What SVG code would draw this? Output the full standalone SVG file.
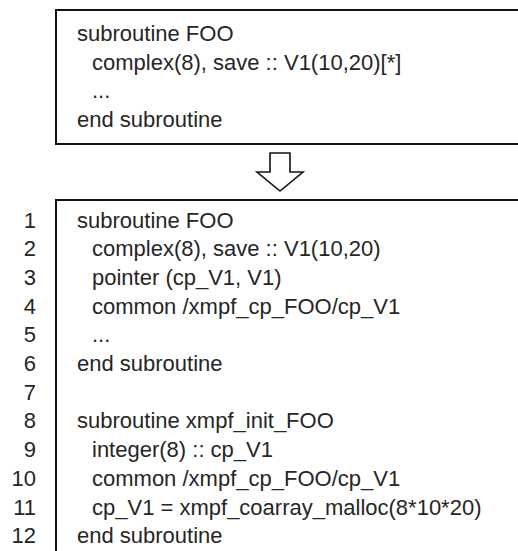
<svg xmlns="http://www.w3.org/2000/svg" width="518" height="551" viewBox="0 0 518 551">
<style>
.box{fill:#ffffff;stroke:#111111;stroke-width:2}
.t{font-family:"Liberation Sans",Arial,sans-serif;font-size:22px;fill:#262626}
.n{font-family:"Liberation Sans",Arial,sans-serif;font-size:22px;fill:#262626;text-anchor:end}
.arrow{fill:#ffffff;stroke:#111111;stroke-width:1.6;stroke-linejoin:miter}
</style>
<rect x="0" y="0" width="518" height="551" fill="#ffffff"/>
<g id="source">
<rect class="box" x="56" y="10" width="480" height="134"/>
<text class="t" x="77" y="41">subroutine FOO</text>
<text class="t" x="92" y="69.7">complex(8), save :: V1(10,20)[*]</text>
<text class="t" x="92" y="98.4">...</text>
<text class="t" x="77" y="127">end subroutine</text>
</g>
<g id="connectors">
<polygon class="arrow" points="270,153 290,153 290,172 303,172 280,191 257,172 270,172"/>
</g>
<g id="result">
<rect class="box" x="56" y="200" width="480" height="420"/>
<g id="line-numbers">
<text class="n" x="36" y="227.5">1</text>
<text class="n" x="36" y="256.2">2</text>
<text class="n" x="36" y="284.9">3</text>
<text class="n" x="36" y="313.6">4</text>
<text class="n" x="36" y="342.3">5</text>
<text class="n" x="36" y="371">6</text>
<text class="n" x="36" y="399.7">7</text>
<text class="n" x="36" y="428.4">8</text>
<text class="n" x="36" y="457.1">9</text>
<text class="n" x="36" y="485.8">10</text>
<text class="n" x="36" y="514.5">11</text>
<text class="n" x="36" y="543.2">12</text>
</g>
<text class="t" x="77" y="227.5">subroutine FOO</text>
<text class="t" x="92" y="256.2">complex(8), save :: V1(10,20)</text>
<text class="t" x="92" y="284.9">pointer (cp_V1, V1)</text>
<text class="t" x="92" y="313.6">common /xmpf_cp_FOO/cp_V1</text>
<text class="t" x="92" y="342.3">...</text>
<text class="t" x="77" y="371">end subroutine</text>
<text class="t" x="77" y="428.4">subroutine xmpf_init_FOO</text>
<text class="t" x="92" y="457.1">integer(8) :: cp_V1</text>
<text class="t" x="92" y="485.8">common /xmpf_cp_FOO/cp_V1</text>
<text class="t" x="92" y="514.5">cp_V1 = xmpf_coarray_malloc(8*10*20)</text>
<text class="t" x="77" y="543.2">end subroutine</text>
</g>
</svg>
